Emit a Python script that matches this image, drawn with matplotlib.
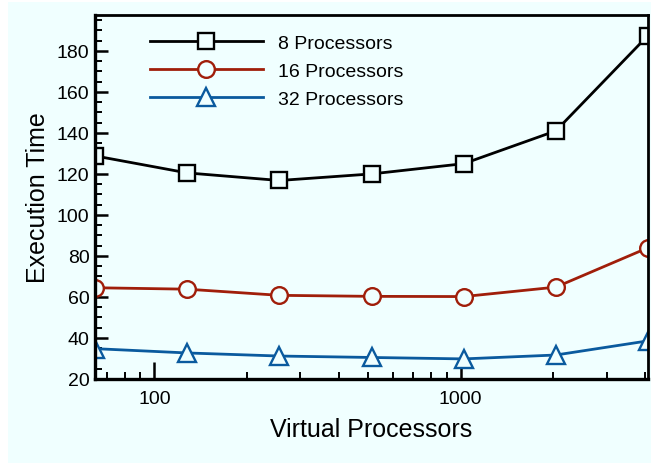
import matplotlib
matplotlib.use('Agg')
import matplotlib.pyplot as plt
from matplotlib.patches import Rectangle
from matplotlib.ticker import LogLocator, FixedLocator, FixedFormatter, MultipleLocator, NullFormatter

plt.rcParams['font.family'] = ['Liberation Sans', 'DejaVu Sans']

# data
virtual_procs = [64, 128, 256, 512, 1024, 2048, 4096]
series_labels = ['8 Processors', '16 Processors', '32 Processors']
time_8 = [128.8, 120.5, 116.8, 120.0, 125.0, 141.0, 187.5]
time_16 = [64.5, 63.8, 60.8, 60.3, 60.2, 64.8, 84.0]
time_32 = [34.8, 32.7, 31.2, 30.5, 29.8, 31.7, 38.6]

bg = '#F0FFFF'
colors = ['black', '#A01E0A', '#0A5A9E']
markers = ['s', 'o', '^']
msizes = [11, 12, 12.5]

fig = plt.figure(figsize=(6.51, 4.64), dpi=100)
fig.patch.set_facecolor('white')
# light background panel with a thin white margin
fig.add_artist(Rectangle((8 / 651, 0), 1, 461 / 464, transform=fig.transFigure,
                         facecolor=bg, edgecolor='none', zorder=-5))

ax = fig.add_axes([95 / 651, 84 / 464, 553 / 651, 364 / 464])
ax.set_facecolor(bg)

for ys, lab, c, m, ms in zip([time_8, time_16, time_32], series_labels, colors, markers, msizes):
    ax.plot(virtual_procs, ys, color=c, lw=2.0, marker=m, markersize=ms,
            markerfacecolor=bg, markeredgecolor=c, markeredgewidth=1.7, label=lab)

ax.set_xscale('log')
ax.set_xlim(64, 4096)
ax.set_ylim(20, 197.5)

ax.xaxis.set_major_locator(FixedLocator([100, 1000]))
ax.xaxis.set_major_formatter(FixedFormatter(['100', '1000']))
ax.xaxis.set_minor_locator(LogLocator(base=10, subs=range(2, 10)))
ax.xaxis.set_minor_formatter(NullFormatter())
ax.yaxis.set_major_locator(MultipleLocator(20))
ax.yaxis.set_minor_locator(MultipleLocator(5))

ax.tick_params(which='both', direction='in', top=False, right=False, labelsize=14,
               width=1.8, colors='black')
ax.tick_params(which='major', length=9)
ax.tick_params(which='minor', length=5, width=1.4)
ax.tick_params(axis='x', which='major', length=12, pad=8)
ax.tick_params(axis='y', which='major', pad=4)

for side in ['left', 'bottom']:
    ax.spines[side].set_linewidth(2.4)
for side in ['top', 'right']:
    ax.spines[side].set_linewidth(2.0)

ax.set_xlabel('Virtual Processors', fontsize=18, labelpad=7)
ax.set_ylabel('Execution Time', fontsize=18, labelpad=5)

ax.legend(loc='upper left', bbox_to_anchor=(150 / 651, 1 - 35 / 464), bbox_transform=fig.transFigure,
          frameon=False, fontsize=14, handlelength=5.8, handletextpad=0.8, labelspacing=0.54,
          borderaxespad=0, borderpad=0)

fig.savefig('out.png', dpi=100, facecolor=fig.get_facecolor())
